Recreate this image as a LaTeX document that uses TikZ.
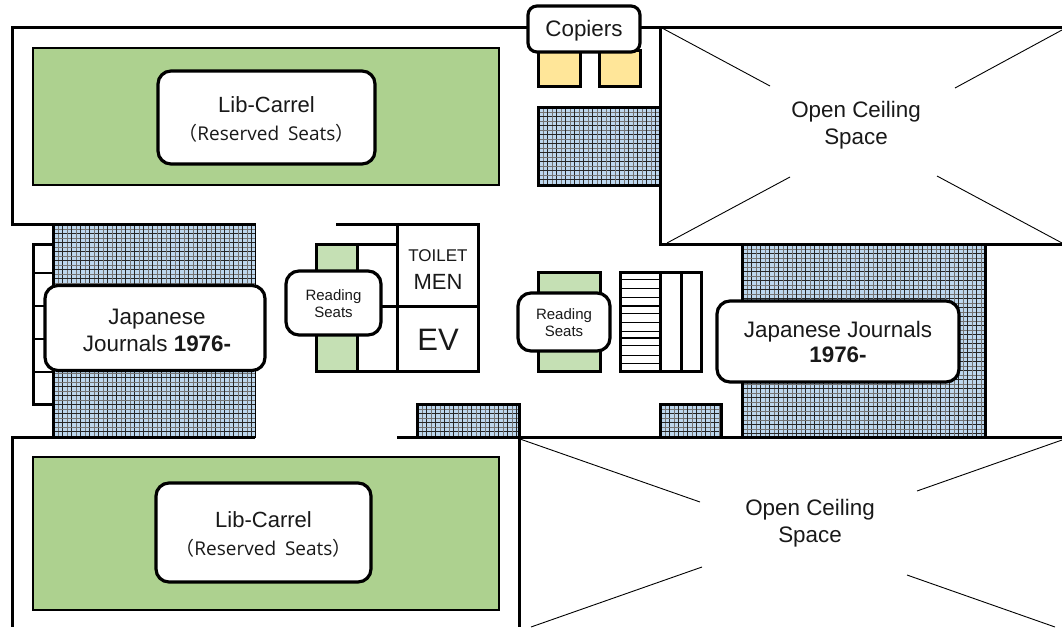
\documentclass[tikz,border=0pt]{standalone}
\usepackage{fontspec}
\setmainfont{Liberation Sans}
\newfontfamily\cjkf{Noto Sans CJK JP}
\newfontfamily\carl[WordSpace=1.8]{Open Sans}
\definecolor{gridblue}{HTML}{BDD7EE}
\definecolor{carrel}{HTML}{ADD18F}
\definecolor{readgreen}{HTML}{C5E0B4}
\definecolor{copyyellow}{HTML}{FFE699}
\newcommand{\gridbox}[5][wall]{%
  \fill[gridblue] (#2,#3) rectangle (#4,#5);
  \begin{scope}
    \clip (#2,#3) rectangle (#4,#5);
    \foreach \k in {0,...,60}{
      \pgfmathsetmacro{\xa}{#2+.5+\k*9}
      \pgfmathsetmacro{\ya}{#3+.5+\k*9}
      \draw[line width=.8pt,black!85] (\xa,#3) -- (\xa,#5);
      \draw[line width=.8pt,black!85] (#2,\ya) -- (#4,\ya);
      \draw[line width=.3pt,black!55] (\xa+5,#3) -- (\xa+5,#5);
      \draw[line width=.3pt,black!55] (#2,\ya+5) -- (#4,\ya+5);
    }
  \end{scope}
  \draw[#1] (#2,#3) rectangle (#4,#5);
}
\tikzset{
  wall/.style={line width=3pt,draw=black},
  thinwall/.style={line width=1.5pt,draw=black},
  diag/.style={line width=.9pt,draw=black},
  label/.style={draw=black,fill=white,line width=3.2pt,rounded corners=13pt,inner sep=0pt},
  plain/.style={align=center,inner sep=0pt,text=black!90},
}
\begin{document}
\begin{tikzpicture}[x=1pt,y=-1pt,line join=miter]
\useasboundingbox (0,0) rectangle (1062,627);
\fill[white] (0,0) rectangle (1062,627);
% carrels
\draw[thinwall,fill=carrel] (33,48) rectangle (499,185);
\draw[thinwall,fill=carrel] (33,457) rectangle (499,610);
% grids
\gridbox[thinwall]{53}{224}{255.5}{437}
\gridbox{538}{107}{660}{185}
\gridbox{742}{244}{985}{437}
\gridbox{417}{404}{519}{437}
\gridbox{660}{404}{721}{437}
\draw[wall] (53,224) -- (53,437);
% shelves at left
\draw[wall] (53,244) -- (33,244) -- (33,404) -- (53,404);
\foreach \yy in {273,306,339,372} \draw[line width=1.6pt] (33,\yy) -- (53,\yy);
% outer walls
\draw[wall] (255,224) -- (12,224) -- (12,27) -- (1062,27);
\draw[wall] (255,437) -- (12,437) -- (12,627);
\draw[wall] (397,437) -- (1062,437);
\draw[wall] (519,437) -- (519,627);
% open ceiling top
\draw[wall] (660,27) -- (660,244) -- (1062,244);
\draw[diag] (662,28) -- (770,86);
\draw[diag] (1062,30) -- (955,88);
\draw[diag] (667,243) -- (790,177);
\draw[diag] (1062,243) -- (937,176);
% open ceiling bottom
\draw[diag] (520,439) -- (700,502);
\draw[diag] (1062,440) -- (917,491);
\draw[diag] (531,627) -- (702,567);
\draw[diag] (1055,627) -- (907,575);
% copiers
\draw[wall,fill=copyyellow] (538,50) rectangle (580,86);
\draw[wall,fill=copyyellow] (599,50) rectangle (640,86);
% core
\draw[wall] (336,224) -- (478,224) -- (478,371) -- (316,371);
\draw[wall] (397,224) -- (397,371);
\draw[wall] (370,306) -- (478,306);
\draw[wall,fill=readgreen] (316,244) rectangle (357,371);
\draw[wall] (357,244) -- (397,244);
% reading right
\draw[wall,fill=readgreen] (538,272) rectangle (600,371);
% stairs
\foreach \yy in {279,288,297,313,322,331,345,355,363} \draw[line width=.9pt] (620,\yy) -- (660,\yy);
\foreach \yy in {306,338} \draw[line width=1.6pt] (620,\yy) -- (660,\yy);
\draw[wall] (620,272) rectangle (701,371);
\draw[wall] (660,272) -- (660,371);
\draw[wall] (681,272) -- (681,371);
% labels
\newcommand{\rsv}{{\cjkf\fontsize{19}{20}\selectfont （}{\carl\fontsize{19}{20}\selectfont Reserved Seats}{\cjkf\fontsize{19}{20}\selectfont ）}}
\node[label,minimum width=217pt,minimum height=93pt] (carrelA) at (266.5,117.5) {};
\node[plain,font=\fontsize{22}{28}\selectfont] (carrelAt) at (266.5,119.5) {Lib-Carrel\\\rsv};
\node[label,minimum width=215pt,minimum height=99pt] (carrelB) at (263.5,532.5) {};
\node[plain,font=\fontsize{22}{28}\selectfont] (carrelBt) at (263.5,534) {Lib-Carrel\\\rsv};
\node[label,minimum width=220pt,minimum height=85pt] (jjA) at (155,328) {};
\node[plain,font=\fontsize{22.4}{27}\selectfont] (jjAt) at (157,330) {Japanese\\Journals \textbf{1976-}};
\node[label,minimum width=242pt,minimum height=81pt] (jjB) at (838,341.5) {};
\node[plain,font=\fontsize{22.4}{25}\selectfont] (jjBt) at (838,342) {Japanese Journals\\\textbf{1976-}};
\node[label,minimum width=95pt,minimum height=64pt] (readA) at (333.5,303) {};
\node[plain,font=\fontsize{15}{17}\selectfont] (readAt) at (333.5,304) {Reading\\Seats};
\node[label,minimum width=92pt,minimum height=58pt] (readB) at (564,322) {};
\node[plain,font=\fontsize{15}{17}\selectfont] (readBt) at (564,323) {Reading\\Seats};
\node[label,minimum width=112pt,minimum height=46pt,rounded corners=9pt] (copiers) at (584,29) {};
\node[plain,font=\fontsize{22.4}{24}\selectfont] (copierst) at (584,31) {Copiers};
\node[plain,font=\fontsize{22.4}{27}\selectfont] (ceilA) at (856,125) {Open Ceiling\\Space};
\node[plain,font=\fontsize{22.4}{27}\selectfont] (ceilB) at (810,523) {Open Ceiling\\Space};
\node[plain,font=\fontsize{17}{20}\selectfont] (toilet) at (438,256) {TOILET};
\node[plain,font=\fontsize{22}{26}\selectfont] (men) at (438,282) {MEN};
\node[plain,font=\fontsize{31}{36}\selectfont] (ev) at (438,340) {EV};
\end{tikzpicture}
\end{document}
